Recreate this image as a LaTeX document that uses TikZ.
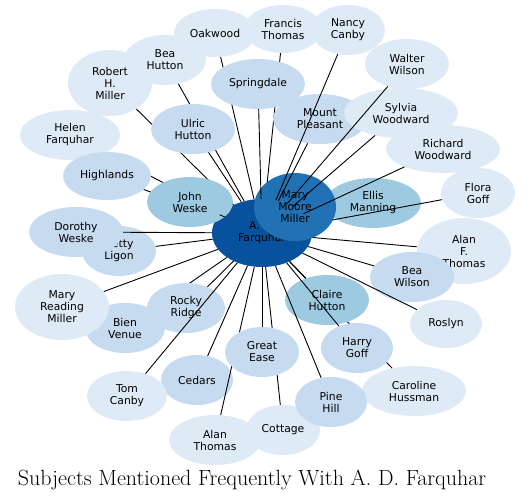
\documentclass[tikz,border=0pt]{standalone}
\usepackage{fontspec}
\newfontfamily\labelfont{DejaVu Sans}
\usetikzlibrary{shapes.geometric}
\definecolor{blueA}{HTML}{DEEBF7}
\definecolor{blueB}{HTML}{C6DBEF}
\definecolor{blueC}{HTML}{9ECAE1}
\definecolor{blueD}{HTML}{2171B5}
\definecolor{blueE}{HTML}{08519C}

\begin{document}
\begin{tikzpicture}[
    x=1pt, y=-1pt,
    vert/.style={ellipse, inner sep=0pt, align=center, text=black,
                 font=\labelfont\fontsize{10.8}{12}\selectfont},
    sz/.style 2 args={minimum width=#1pt, minimum height=#2pt},
    rare/.style={vert, fill=blueA},
    occas/.style={vert, fill=blueB},
    freq/.style={vert, fill=blueC},
    vfreq/.style={vert, fill=blueD},
    hub/.style={vert, fill=blueE},
    edge/.style={black, line width=0.9pt},
    headline/.style={font=\fontsize{22}{26}\selectfont, anchor=base},
]
\useasboundingbox (0,0) rectangle (529,501);

% the hub goes first, its neighbours overlap it
\node[hub, sz={100}{68}] (adf) at (262,233) {A. D.\\Farquhar};

% ---- top left ----
\node[rare, sz={82}{48}] (oak) at (215,33) {Oakwood};
\node[rare, sz={78}{48}] (fth) at (283,29) {Francis\\Thomas};
\node[rare, sz={74}{50}] (nca) at (348,30) {Nancy\\Canby};
\node[rare, sz={84}{66}] (rhm) at (110,83) {Robert\\H.\\Miller};
\node[rare, sz={82}{50}] (bhu) at (165,60) {Bea\\Hutton};
\node[rare, sz={100}{50}] (hfa) at (70,135) {Helen\\Farquhar};
% these run underneath the next nodes
\foreach \n in {oak,fth,bhu,rhm,hfa}
    \draw[edge] (\n) -- (adf);
\node[occas, sz={94}{50}] (spr) at (258,84) {Springdale};
\node[occas, sz={84}{50}] (ulr) at (193,129) {Ulric\\Hutton};
\node[occas, sz={88}{48}] (hig) at (107,176) {Highlands};
\draw[edge] (hig) -- (adf);
\node[freq, sz={86}{50}] (jwe) at (190,202) {John\\Weske};

% ---- top right ----
\node[occas, sz={94}{50}] (mpl) at (320,119) {Mount\\Pleasant};
\node[rare, sz={84}{50}] (wwi) at (407,64) {Walter\\Wilson};
\node[rare, sz={114}{50}] (syl) at (401,113) {Sylvia\\Woodward};
\node[rare, sz={114}{48}] (rwo) at (443,149) {Richard\\Woodward};
\node[freq, sz={96}{50}] (ell) at (373,203) {Ellis\\Manning};
\node[rare, sz={74}{50}] (flo) at (478,193) {Flora\\Goff};
\node[rare, sz={94}{66}] (aft) at (464,251) {Alan\\F.\\Thomas};
\foreach \n in {ell,flo,aft}
    \draw[edge] (\n) -- (adf);
\node[vfreq, sz={82}{68}] (mmm) at (295,207) {Mary\\Moore\\Miller};

% ---- bottom right ----
\node[occas, sz={84}{50}] (bwi) at (412,277) {Bea\\Wilson};
\node[rare, sz={72}{48}] (ros) at (446,324) {Roslyn};
\node[rare, sz={104}{50}] (chu) at (414,391) {Caroline\\Hussman};
\draw[edge] (chu) -- (adf);
\node[occas, sz={72}{50}] (hgo) at (357,348) {Harry\\Goff};
\node[freq, sz={84}{50}] (clh) at (327,300) {Claire\\Hutton};

% ---- bottom ----
\node[rare, sz={74}{50}] (cot) at (283,430) {Cottage};
\node[rare, sz={92}{50}] (ath) at (215,440) {Alan\\Thomas};
\node[occas, sz={72}{50}] (ced) at (197,380) {Cedars};
\foreach \n in {cot,ath}
    \draw[edge] (\n) -- (adf);
\node[occas, sz={74}{50}] (gea) at (262,352) {Great\\Ease};
\node[occas, sz={72}{50}] (pin) at (331,402) {Pine\\Hill};

% ---- left ----
\node[rare, sz={80}{50}] (tca) at (127,396) {Tom\\Canby};
\node[occas, sz={80}{50}] (bve) at (125,328) {Bien\\Venue};
\draw[edge] (bve) -- (adf);
\node[occas, sz={78}{50}] (rro) at (186,308) {Rocky\\Ridge};
\node[rare, sz={94}{66}] (mrm) at (62,307) {Mary\\Reading\\Miller};
\node[occas, sz={74}{50}] (bli) at (119,251) {Betty\\Ligon};
\node[occas, sz={94}{50}] (dwe) at (76,232) {Dorothy\\Weske};

% the rest of the edges lie on top
\foreach \n in {spr,ulr,jwe,mpl,nca,wwi,syl,rwo,bwi,ros,hgo,clh,gea,pin,ced,tca,rro,mrm,bli,dwe}
    \draw[edge] (\n) -- (adf);

\node[headline] (ttl) at (252,485) {Subjects Mentioned Frequently With A. D. Farquhar};
\end{tikzpicture}
\end{document}
